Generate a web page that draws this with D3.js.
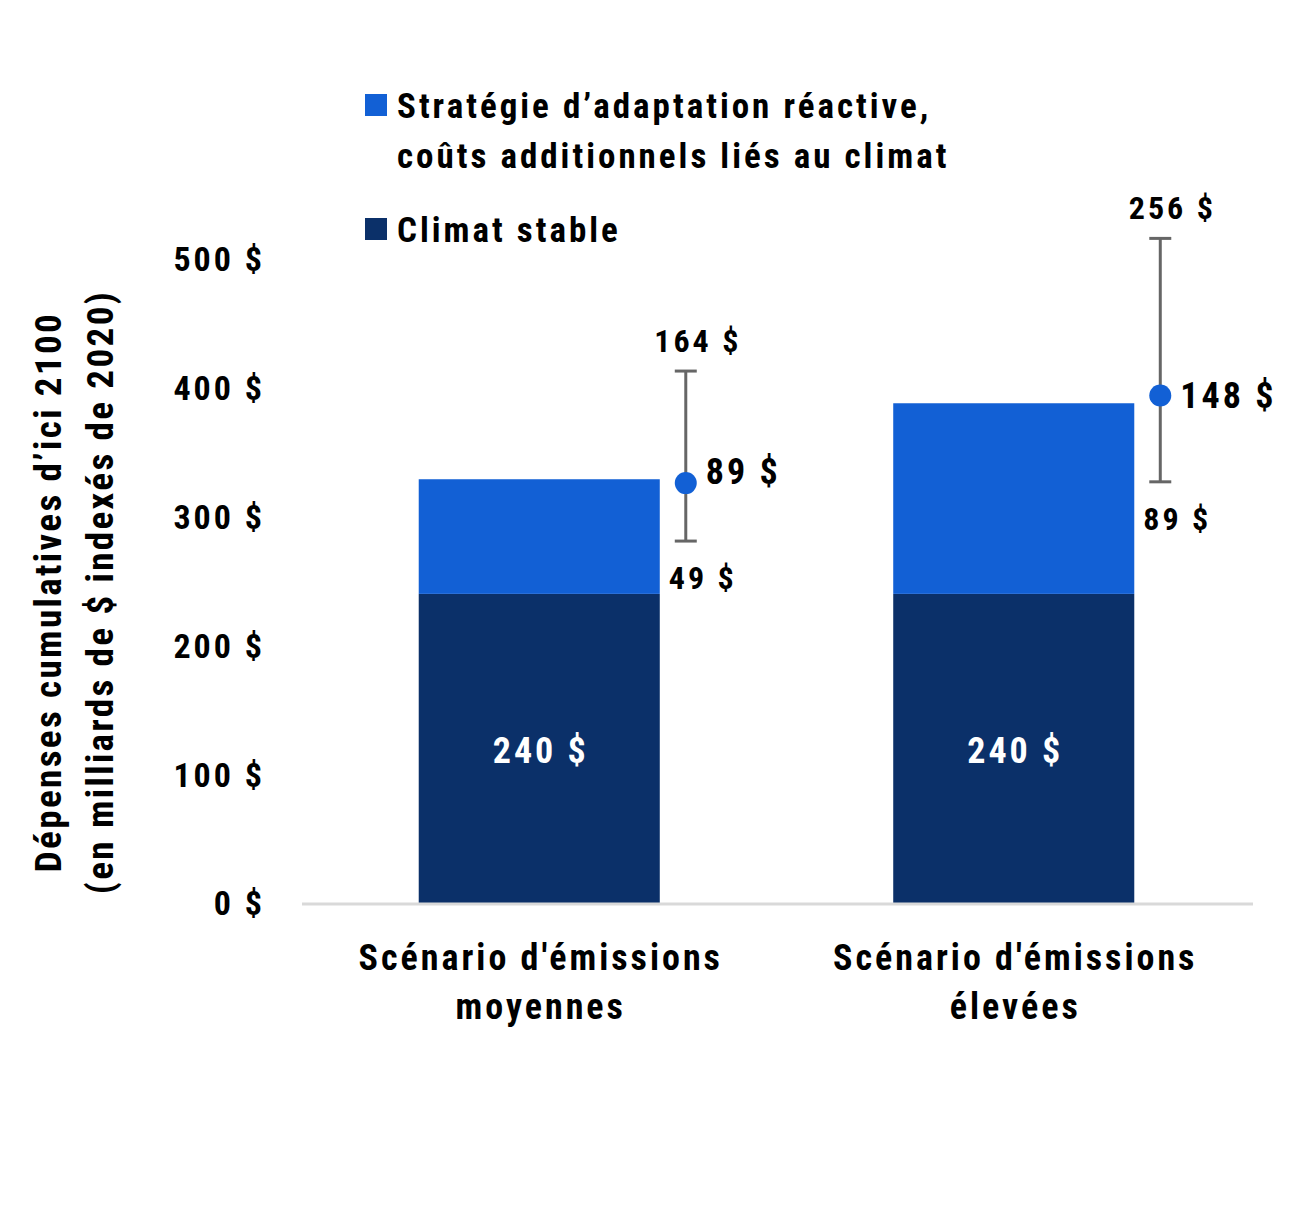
<!DOCTYPE html>
<html><head><meta charset="utf-8">
<script src="https://cdn.jsdelivr.net/npm/d3@7"></script>
<style>
html,body{margin:0;padding:0;background:#fff;}
svg text{font-family:"Liberation Sans Narrow","Arial Narrow","Roboto Condensed","Liberation Sans",sans-serif;font-weight:bold;font-stretch:condensed;letter-spacing:3px;}
</style></head>
<body>
<svg id="chart" width="1295" height="1215"></svg>
<script>
// ---- data ----
const categories = [["Scénario d'émissions", "moyennes"], ["Scénario d'émissions", "élevées"]];
const seriesNames = ["Stratégie d’adaptation réactive,|coûts additionnels liés au climat", "Climat stable"];
const stableValues = [240, 240];
const reactiveValues = [89, 148];
const pointTotals = [326, 394];
const errLowTotals = [281, 327];
const errHighTotals = [413, 516];
const pointLabels = ["89 $", "148 $"];
const lowLabels = ["49 $", "89 $"];
const highLabels = ["164 $", "256 $"];
const yTicks = [0, 100, 200, 300, 400, 500];

// ---- drawing ----
const svg = d3.select("#chart");
const colDark = "#0b3069", colLight = "#1260d5", colErr = "#666666";

const x = d3.scaleBand().domain(d3.range(categories.length)).range([302, 1251])
  .paddingInner(0.492).paddingOuter(0.246);
const y = d3.scaleLinear().domain([0, 500]).range([903, 259]);

// y tick labels
const yAxis = d3.axisLeft(y).tickValues(yTicks).tickSize(0).tickPadding(0).tickFormat(d => d + " $");
const ya = svg.append("g").attr("transform", "translate(265,0)").call(yAxis);
ya.select(".domain").remove();
ya.attr("font-family", null).attr("font-size", null);
ya.selectAll("text").attr("font-size", 34).attr("fill", "#000").attr("dy", "0.35em");

// y title
const yt = svg.append("text").attr("transform", "translate(61,592) rotate(-90)")
  .attr("text-anchor", "middle").attr("font-size", 37).attr("fill", "#000").style("letter-spacing", "2.4px");
yt.append("tspan").attr("x", 0).attr("dy", 0).text("Dépenses cumulatives d’ici 2100");
yt.append("tspan").attr("x", 0).attr("dy", 52).text("(en milliards de $ indexés de 2020)");

// bars
const g = svg.append("g");
g.selectAll("rect.stable").data(stableValues).join("rect")
  .attr("x", (d, i) => x(i)).attr("width", x.bandwidth())
  .attr("y", d => y(d)).attr("height", d => y(0) - y(d)).attr("fill", colDark);
g.selectAll("rect.reactive").data(reactiveValues).join("rect")
  .attr("x", (d, i) => x(i)).attr("width", x.bandwidth())
  .attr("y", (d, i) => y(stableValues[i] + d)).attr("height", (d, i) => y(stableValues[i]) - y(stableValues[i] + d))
  .attr("fill", colLight);

// baseline
svg.append("line").attr("x1", 302).attr("x2", 1253).attr("y1", y(0) + 1).attr("y2", y(0) + 1)
  .attr("stroke", "#d9d9d9").attr("stroke-width", 3);

// stable value labels
g.selectAll("text.sv").data(stableValues).join("text")
  .attr("x", (d, i) => x(i) + x.bandwidth() / 2 + 1.5).attr("y", (d, i) => y(d / 2) + 15)
  .attr("text-anchor", "middle").attr("font-size", 36).attr("fill", "#fff").text(d => d + " $");

// error bars
const ex = i => x(i) + x.bandwidth() + 26;
const eg = svg.append("g");
categories.forEach((c, i) => {
  const cx = ex(i);
  eg.append("line").attr("x1", cx).attr("x2", cx).attr("y1", y(errLowTotals[i])).attr("y2", y(errHighTotals[i]))
    .attr("stroke", colErr).attr("stroke-width", 3);
  [errLowTotals[i], errHighTotals[i]].forEach(v => {
    eg.append("line").attr("x1", cx - 11).attr("x2", cx + 11).attr("y1", y(v)).attr("y2", y(v))
      .attr("stroke", colErr).attr("stroke-width", 3);
  });
  eg.append("circle").attr("cx", cx).attr("cy", y(pointTotals[i])).attr("r", 11).attr("fill", colLight);
  eg.append("text").attr("x", cx + 20).attr("y", y(stableValues[i] + reactiveValues[i]) - 8).attr("dy", "0.35em")
    .attr("font-size", 36).attr("fill", "#000").text(pointLabels[i]);
  eg.append("text").attr("x", cx + 12).attr("y", y(errHighTotals[i]) - 19)
    .attr("text-anchor", "middle").attr("font-size", 32).attr("fill", "#000").text(highLabels[i]);
  eg.append("text").attr("x", cx + 17).attr("y", y(errLowTotals[i]) + 48)
    .attr("text-anchor", "middle").attr("font-size", 32).attr("fill", "#000").text(lowLabels[i]);
});

// category labels
categories.forEach((lines, i) => {
  const cx = x(i) + x.bandwidth() / 2 + 1.5;
  const t = svg.append("text").attr("x", cx).attr("y", 970)
    .attr("text-anchor", "middle").attr("font-size", 36).attr("fill", "#000");
  lines.forEach((l, k) => t.append("tspan").attr("x", cx).attr("dy", k ? 49 : 0).text(l));
});

// legend
const legend = [{name: seriesNames[0], color: colLight, y: 94}, {name: seriesNames[1], color: colDark, y: 218}];
legend.forEach(l => {
  svg.append("rect").attr("x", 365).attr("y", l.y).attr("width", 22).attr("height", 22).attr("fill", l.color);
  const t = svg.append("text").attr("x", 397).attr("y", l.y + 24).attr("font-size", 35).attr("fill", "#000");
  l.name.split("|").forEach((s, k) => t.append("tspan").attr("x", 397).attr("dy", k ? 50 : 0).text(s));
});
</script>
</body></html>
